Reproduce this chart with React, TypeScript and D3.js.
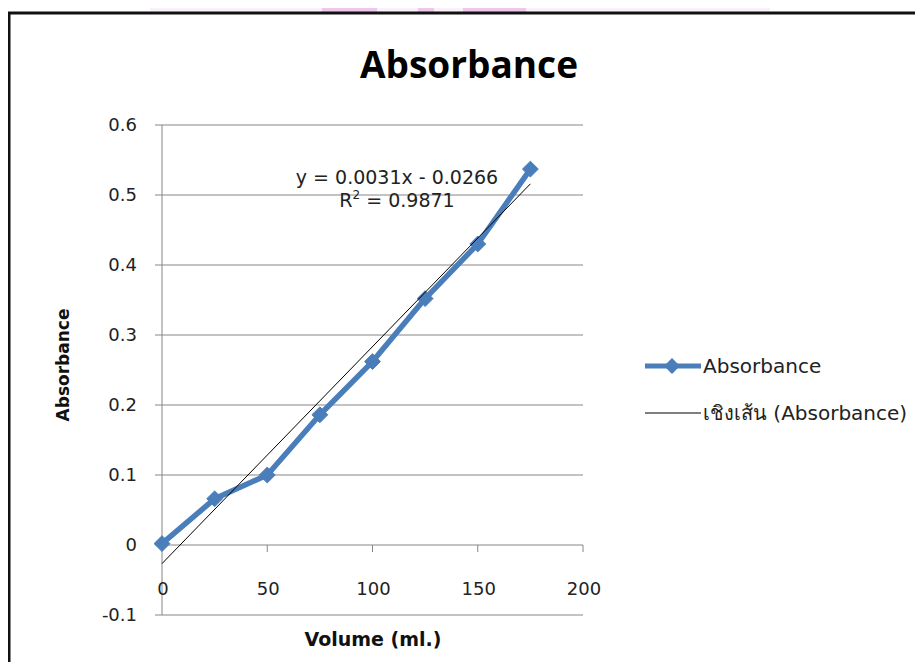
import React, { useEffect, useRef } from 'react';
import * as d3 from 'd3';

const volumes = [0, 25, 50, 75, 100, 125, 150, 175];
const absorbance = [0.002, 0.066, 0.1, 0.186, 0.262, 0.352, 0.43, 0.537];
const xTicks = [0, 50, 100, 150, 200];
const yTicks = [-0.1, 0, 0.1, 0.2, 0.3, 0.4, 0.5, 0.6];
const slope = 0.0031;
const intercept = -0.0266;
const rSquared = 0.9871;
const seriesName = 'Absorbance';
const trendName = 'เชิงเส้น (Absorbance)';

const W = 923;
const H = 670;
const BLUE = '#4a7ebb';
const GRID = '#868686';
const FONT = '"DejaVu Sans", Tahoma, sans-serif';

const App: React.FC = () => {
  const svgRef = useRef<SVGSVGElement>(null);

  useEffect(() => {
    const svg = d3.select(svgRef.current);
    svg.selectAll('*').remove();

    const x = d3.scaleLinear().domain([0, 200]).range([162, 583]);
    const y = d3.scaleLinear().domain([-0.1, 0.6]).range([615, 125]);

    svg.append('rect').attr('width', W).attr('height', H).attr('fill', '#fff');

    // faint watermark blocks above the frame
    svg.append('rect').attr('x', 150).attr('y', 0).attr('width', 620).attr('height', 12)
      .attr('fill', '#f6e6f6').attr('opacity', 0.6);
    [[322, 55], [418, 16], [463, 63]].forEach(([bx, bw]) => {
      svg.append('rect').attr('x', bx).attr('y', 0).attr('width', bw).attr('height', 12)
        .attr('fill', '#e8b4e8').attr('opacity', 0.7);
    });

    // chart frame
    svg.append('rect')
      .attr('x', 9).attr('y', 13).attr('width', W).attr('height', H)
      .attr('fill', '#fff').attr('stroke', '#111').attr('stroke-width', 3);

    // title
    svg.append('text')
      .attr('x', 469).attr('y', 78)
      .attr('text-anchor', 'middle')
      .attr('font-family', '"Open Sans", sans-serif')
      .attr('font-weight', 'bold')
      .attr('font-size', 37)
      .attr('fill', '#000')
      .text('Absorbance');

    // gridlines
    svg.append('g').selectAll('line')
      .data(yTicks)
      .enter().append('line')
      .attr('x1', x(0) - 7).attr('x2', x(200))
      .attr('y1', d => y(d)).attr('y2', d => y(d))
      .attr('stroke', GRID).attr('stroke-width', 1);

    // y axis line
    svg.append('line')
      .attr('x1', x(0)).attr('x2', x(0))
      .attr('y1', y(0.6)).attr('y2', y(-0.1))
      .attr('stroke', GRID).attr('stroke-width', 1);

    // x ticks (axis crosses at y=0)
    svg.append('g').selectAll('line')
      .data(xTicks.slice(1))
      .enter().append('line')
      .attr('x1', d => x(d)).attr('x2', d => x(d))
      .attr('y1', y(0)).attr('y2', y(0) + 7)
      .attr('stroke', GRID).attr('stroke-width', 1);

    // y tick labels
    svg.append('g').selectAll('text')
      .data(yTicks)
      .enter().append('text')
      .attr('x', 137).attr('y', d => y(d))
      .attr('dy', '0.36em')
      .attr('text-anchor', 'end')
      .attr('font-family', FONT).attr('font-size', 18).attr('fill', '#222')
      .text(d => String(+d.toFixed(1)));

    // x tick labels
    svg.append('g').selectAll('text')
      .data(xTicks)
      .enter().append('text')
      .attr('x', d => x(d) + 1).attr('y', 595)
      .attr('text-anchor', 'middle')
      .attr('font-family', FONT).attr('font-size', 18).attr('fill', '#222')
      .text(d => String(d));

    // axis titles
    svg.append('text')
      .attr('x', 373).attr('y', 646)
      .attr('text-anchor', 'middle')
      .attr('font-family', FONT).attr('font-weight', 'bold').attr('font-size', 19)
      .attr('fill', '#111')
      .text('Volume (ml.)');

    svg.append('text')
      .attr('transform', 'translate(69,365) rotate(-90)')
      .attr('text-anchor', 'middle')
      .attr('font-family', FONT).attr('font-weight', 'bold').attr('font-size', 17)
      .attr('fill', '#111')
      .text('Absorbance');

    // series line
    const pts = volumes.map((v, i) => [v, absorbance[i]] as [number, number]);
    const line = d3.line<[number, number]>().x(d => x(d[0])).y(d => y(d[1]));
    svg.append('path')
      .attr('d', line(pts) as string)
      .attr('fill', 'none').attr('stroke', BLUE).attr('stroke-width', 5.5)
      .attr('stroke-linejoin', 'round');

    // markers
    const diamond = d3.symbol().type(d3.symbolDiamond2).size(160);
    svg.append('g').selectAll('path')
      .data(pts)
      .enter().append('path')
      .attr('d', diamond() as string)
      .attr('transform', d => `translate(${x(d[0])},${y(d[1])})`)
      .attr('fill', BLUE).attr('stroke', BLUE).attr('stroke-width', 1);

    // linear trendline
    const trendX = [volumes[0], volumes[volumes.length - 1]];
    svg.append('line')
      .attr('x1', x(trendX[0])).attr('y1', y(slope * trendX[0] + intercept))
      .attr('x2', x(trendX[1])).attr('y2', y(slope * trendX[1] + intercept))
      .attr('stroke', '#000').attr('stroke-width', 1);

    // equation
    const eq = svg.append('g').attr('font-family', FONT).attr('font-size', 19).attr('fill', '#222')
      .attr('text-anchor', 'middle');
    eq.append('text').attr('x', 397).attr('y', 184)
      .text(`y = ${slope}x - ${Math.abs(intercept)}`);
    const r2 = eq.append('text').attr('x', 397).attr('y', 207);
    r2.append('tspan').text('R');
    r2.append('tspan').attr('font-size', 12).attr('dy', -8).text('2');
    r2.append('tspan').attr('dy', 8).text(` = ${rSquared}`);

    // legend
    const lg = svg.append('g').attr('font-family', FONT).attr('font-size', 20).attr('fill', '#222');
    lg.append('line').attr('x1', 645).attr('x2', 701).attr('y1', 366).attr('y2', 366)
      .attr('stroke', BLUE).attr('stroke-width', 5);
    lg.append('path').attr('d', diamond() as string).attr('transform', 'translate(672,366)')
      .attr('fill', BLUE);
    lg.append('text').attr('x', 703).attr('y', 366).attr('dy', '0.36em').text(seriesName);
    lg.append('line').attr('x1', 645).attr('x2', 701).attr('y1', 413).attr('y2', 413)
      .attr('stroke', '#000').attr('stroke-width', 1.2);
    lg.append('text').attr('x', 703).attr('y', 413).attr('dy', '0.36em').text(trendName);
  }, []);

  return (
    <div style={{ width: W, height: H, margin: -8 }}>
      <svg ref={svgRef} width={W} height={H} style={{ display: 'block' }}></svg>
    </div>
  );
};

export default App;
